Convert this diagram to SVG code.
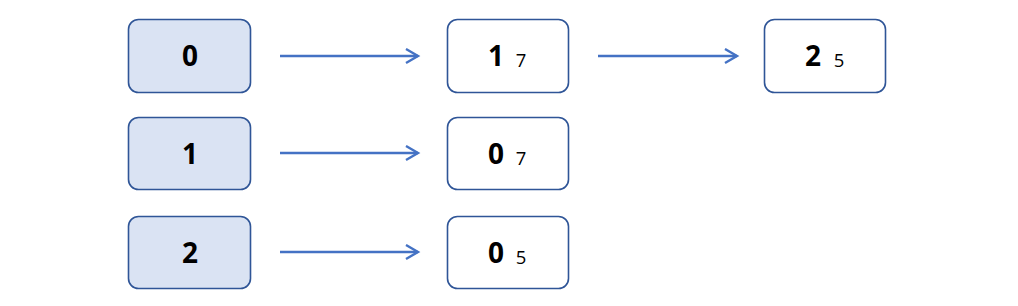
<svg xmlns="http://www.w3.org/2000/svg" width="1018" height="306" viewBox="0 0 1018 306">
<style>
.k{fill:#dae3f3;stroke:#2f5597;stroke-width:1.6}
.v{fill:#ffffff;stroke:#2f5597;stroke-width:1.6}
.b{font-family:"Open Sans","Liberation Sans",sans-serif;font-weight:bold;font-size:28px;fill:#000}
.s{font-family:"Open Sans","Liberation Sans",sans-serif;font-size:18.5px;fill:#000}
.c{stroke:#4472c4;stroke-width:2.4;fill:none}
</style>
<defs>
<marker id="ah" markerWidth="16" markerHeight="18" refX="13" refY="8" orient="auto" markerUnits="userSpaceOnUse">
<path d="M1,1 L13,8 L1,15" fill="none" stroke="#4472c4" stroke-width="2.4"/>
</marker>
</defs>
<g id="k0"><rect class="k" x="128.5" y="19.5" width="122" height="73" rx="10"/><text class="b" x="190" y="66" text-anchor="middle">0</text></g>
<g id="k1"><rect class="k" x="128.5" y="117.5" width="122" height="72" rx="10"/><text class="b" x="190" y="164" text-anchor="middle">1</text></g>
<g id="k2"><rect class="k" x="128.5" y="216.5" width="122" height="72" rx="10"/><text class="b" x="190" y="263" text-anchor="middle">2</text></g>
<g id="n01"><rect class="v" x="447.5" y="19.5" width="121" height="73" rx="10"/><text class="b" x="496" y="66" text-anchor="middle">1</text><text class="s" x="521" y="67" text-anchor="middle">7</text></g>
<g id="n02"><rect class="v" x="764.5" y="19.5" width="121" height="73" rx="10"/><text class="b" x="813" y="66" text-anchor="middle">2</text><text class="s" x="839" y="67" text-anchor="middle">5</text></g>
<g id="n10"><rect class="v" x="447.5" y="117.5" width="121" height="72" rx="10"/><text class="b" x="496" y="164" text-anchor="middle">0</text><text class="s" x="521" y="165" text-anchor="middle">7</text></g>
<g id="n20"><rect class="v" x="447.5" y="216.5" width="121" height="72" rx="10"/><text class="b" x="496" y="263" text-anchor="middle">0</text><text class="s" x="521" y="264" text-anchor="middle">5</text></g>
<g id="connectors">
<line class="c" x1="280" y1="56" x2="418" y2="56" marker-end="url(#ah)"/>
<line class="c" x1="598" y1="56" x2="737" y2="56" marker-end="url(#ah)"/>
<line class="c" x1="280" y1="153" x2="418" y2="153" marker-end="url(#ah)"/>
<line class="c" x1="280" y1="252" x2="418" y2="252" marker-end="url(#ah)"/>
</g>
</svg>
